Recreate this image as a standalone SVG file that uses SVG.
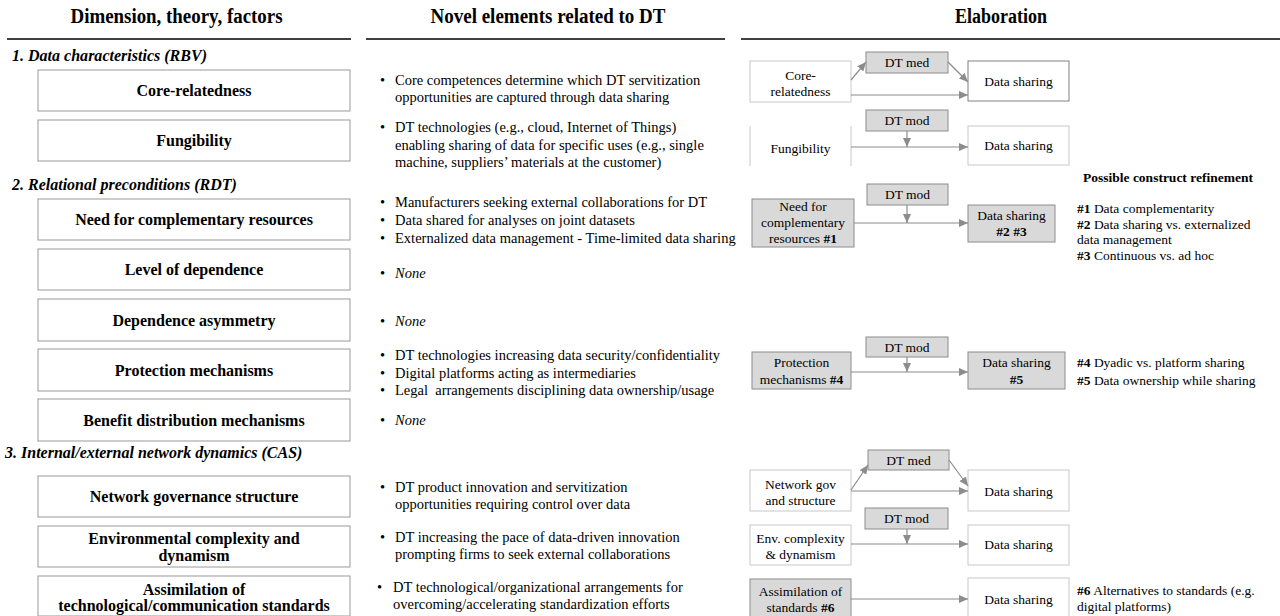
<svg xmlns="http://www.w3.org/2000/svg" width="1280" height="616" viewBox="0 0 1280 616" font-family="'Liberation Serif', 'Times New Roman', serif">
<style>
svg, text, tspan{font-family:'Liberation Serif','Times New Roman',serif}
text{fill:#000}
.hdr{font-size:20px;font-weight:bold;text-anchor:middle}
.sec{font-size:16px;font-weight:bold;font-style:italic}
.lbox{fill:#fff;stroke:#999;stroke-width:1}
.lbl{font-size:16px;font-weight:bold;text-anchor:middle}
.mid{font-size:14.5px}
.it{font-style:italic}
.rw{fill:#fff;stroke:#c8c8c8;stroke-width:1}
.rd{fill:#fff;stroke:#808080;stroke-width:1}
.rg{fill:#d9d9d9;stroke:#8c8c8c;stroke-width:1}
.rt{font-size:13.5px;text-anchor:middle}
.ref{font-size:13.5px}
.side{stroke:#c8c8c8;stroke-width:1}
#connectors line{stroke:#8c8c8c;stroke-width:1.2;fill:none;marker-end:url(#ah)}
</style>
<defs>
<marker id="ah" markerUnits="userSpaceOnUse" markerWidth="9" markerHeight="8" refX="9" refY="4" orient="auto">
<path d="M0,0 L9,4 L0,8 z" fill="#8c8c8c"/>
</marker>
</defs>
<rect width="1280" height="616" fill="#fff"/>

<g id="headers">
<text class="hdr" x="176.5" y="23" textLength="212" lengthAdjust="spacingAndGlyphs">Dimension, theory, factors</text>
<text class="hdr" x="548" y="23" textLength="235" lengthAdjust="spacingAndGlyphs">Novel elements related to DT</text>
<text class="hdr" x="1001" y="23" textLength="92" lengthAdjust="spacingAndGlyphs">Elaboration</text>
<line x1="7" y1="39" x2="351" y2="39" stroke="#000" stroke-width="1.5"/>
<line x1="366" y1="39" x2="725" y2="39" stroke="#000" stroke-width="1.5"/>
<line x1="741" y1="39" x2="1280" y2="39" stroke="#000" stroke-width="1.5"/>
</g>

<g id="sections">
<text class="sec" x="12" y="61" textLength="195" lengthAdjust="spacingAndGlyphs">1. Data characteristics (RBV)</text>
<text class="sec" x="12" y="190">2. Relational preconditions (RDT)</text>
<text class="sec" x="5" y="458">3. Internal/external network dynamics (CAS)</text>
</g>

<g id="f-core"><rect class="lbox" x="38" y="70" width="312" height="41"/><text class="lbl" x="194" y="96">Core-relatedness</text></g>
<g id="f-fung"><rect class="lbox" x="38" y="120" width="312" height="41"/><text class="lbl" x="194" y="146">Fungibility</text></g>
<g id="f-need"><rect class="lbox" x="38" y="199" width="312" height="41"/><text class="lbl" x="194" y="225">Need for complementary resources</text></g>
<g id="f-level"><rect class="lbox" x="38" y="249" width="312" height="41"/><text class="lbl" x="194" y="275">Level of dependence</text></g>
<g id="f-asym"><rect class="lbox" x="38" y="299" width="312" height="42"/><text class="lbl" x="194" y="325.5">Dependence asymmetry</text></g>
<g id="f-prot"><rect class="lbox" x="38" y="349" width="312" height="42"/><text class="lbl" x="194" y="375.5">Protection mechanisms</text></g>
<g id="f-benefit"><rect class="lbox" x="38" y="399" width="312" height="42"/><text class="lbl" x="194" y="425.5">Benefit distribution mechanisms</text></g>
<g id="f-netgov"><rect class="lbox" x="38" y="476" width="312" height="41"/><text class="lbl" x="194" y="502">Network governance structure</text></g>
<g id="f-env"><rect class="lbox" x="38" y="526" width="312" height="41"/><text class="lbl" x="194" y="544">Environmental complexity and</text><text class="lbl" x="194" y="561">dynamism</text></g>
<g id="f-assim"><rect class="lbox" x="38" y="576" width="312" height="40"/><text class="lbl" x="194" y="595">Assimilation of</text><text class="lbl" x="194" y="611">technological/communication standards</text></g>

<g id="novel">
<text class="mid" x="380" y="85">•</text><text class="mid" x="395" y="85">Core competences determine which DT servitization</text>
<text class="mid" x="395" y="102">opportunities are captured through data sharing</text>
<text class="mid" x="380" y="132">•</text><text class="mid" x="395" y="132">DT technologies (e.g., cloud, Internet of Things)</text>
<text class="mid" x="395" y="149.5">enabling sharing of data for specific uses (e.g., single</text>
<text class="mid" x="395" y="167">machine, suppliers’ materials at the customer)</text>
<text class="mid" x="380" y="207">•</text><text class="mid" x="395" y="207">Manufacturers seeking external collaborations for DT</text>
<text class="mid" x="380" y="225">•</text><text class="mid" x="395" y="225">Data shared for analyses on joint datasets</text>
<text class="mid" x="380" y="243">•</text><text class="mid" x="395" y="243">Externalized data management - Time-limited data sharing</text>
<text class="mid" x="380" y="278">•</text><text class="mid it" x="395" y="278">None</text>
<text class="mid" x="380" y="326">•</text><text class="mid it" x="395" y="326">None</text>
<text class="mid" x="380" y="360">•</text><text class="mid" x="395" y="360">DT technologies increasing data security/confidentiality</text>
<text class="mid" x="380" y="377.5">•</text><text class="mid" x="395" y="377.5">Digital platforms acting as intermediaries</text>
<text class="mid" x="380" y="395">•</text><text class="mid" x="395" y="395" xml:space="preserve">Legal  arrangements disciplining data ownership/usage</text>
<text class="mid" x="380" y="425">•</text><text class="mid it" x="395" y="425">None</text>
<text class="mid" x="380" y="492">•</text><text class="mid" x="395" y="492">DT product innovation and servitization</text>
<text class="mid" x="395" y="508.5">opportunities requiring control over data</text>
<text class="mid" x="380" y="542">•</text><text class="mid" x="395" y="542">DT increasing the pace of data-driven innovation</text>
<text class="mid" x="395" y="558.5">prompting firms to seek external collaborations</text>
<text class="mid" x="377" y="592">•</text><text class="mid" x="393" y="592">DT technological/organizational arrangements for</text>
<text class="mid" x="393" y="608.5">overcoming/accelerating standardization efforts</text>
</g>

<g id="e1-core"><rect class="rw" x="750" y="61" width="101" height="41"/><text class="rt" x="800.5" y="79.5">Core-</text><text class="rt" x="800.5" y="95.5">relatedness</text></g>
<g id="e1-med"><rect class="rg" x="866" y="52" width="82" height="21"/><text class="rt" x="907" y="67">DT med</text></g>
<g id="e1-ds"><rect class="rd" x="968" y="61" width="101" height="40"/><text class="rt" x="1018.5" y="86">Data sharing</text></g>

<g id="e2-fung"><line class="side" x1="750" y1="126" x2="750" y2="166"/><line class="side" x1="851" y1="126" x2="851" y2="166"/><text class="rt" x="800.5" y="153">Fungibility</text></g>
<g id="e2-mod"><rect class="rg" x="866" y="110" width="82" height="21"/><text class="rt" x="907" y="125">DT mod</text></g>
<g id="e2-ds"><rect class="rw" x="968" y="126" width="101" height="39"/><text class="rt" x="1018.5" y="150">Data sharing</text></g>

<g id="refine-title"><text class="ref" x="1083" y="182" font-weight="bold">Possible construct refinement</text></g>

<g id="e3-need"><rect class="rg" x="752" y="199" width="102" height="48"/><text class="rt" x="803" y="211">Need for</text><text class="rt" x="803" y="227">complementary</text><text class="rt" x="803" y="243">resources <tspan font-weight="bold">#1</tspan></text></g>
<g id="e3-mod"><rect class="rg" x="867" y="184" width="81" height="21"/><text class="rt" x="907.5" y="199">DT mod</text></g>
<g id="e3-ds"><rect class="rg" x="968" y="205" width="87" height="37"/><text class="rt" x="1011.5" y="220">Data sharing</text><text class="rt" x="1011.5" y="236" font-weight="bold">#2 #3</text></g>
<g id="refine-1"><text class="ref" x="1077" y="213"><tspan font-weight="bold">#1</tspan> Data complementarity</text><text class="ref" x="1077" y="229"><tspan font-weight="bold">#2</tspan> Data sharing vs. externalized</text><text class="ref" x="1077" y="244">data management</text><text class="ref" x="1077" y="260"><tspan font-weight="bold">#3</tspan> Continuous vs. ad hoc</text></g>

<g id="e4-prot"><rect class="rg" x="752" y="352" width="99" height="37"/><text class="rt" x="801.5" y="366.5">Protection</text><text class="rt" x="801.5" y="383.5">mechanisms <tspan font-weight="bold">#4</tspan></text></g>
<g id="e4-mod"><rect class="rg" x="866" y="337" width="82" height="20"/><text class="rt" x="907" y="351.5">DT mod</text></g>
<g id="e4-ds"><rect class="rg" x="968" y="352" width="97" height="37"/><text class="rt" x="1016.5" y="366.5">Data sharing</text><text class="rt" x="1016.5" y="383.5" font-weight="bold">#5</text></g>
<g id="refine-2"><text class="ref" x="1077" y="367"><tspan font-weight="bold">#4</tspan> Dyadic vs. platform sharing</text><text class="ref" x="1077" y="385"><tspan font-weight="bold">#5</tspan> Data ownership while sharing</text></g>

<g id="e5-net"><rect class="rw" x="750" y="470" width="101" height="41"/><text class="rt" x="800.5" y="488.5">Network gov</text><text class="rt" x="800.5" y="504.5">and structure</text></g>
<g id="e5-med"><rect class="rg" x="868" y="450" width="81" height="20"/><text class="rt" x="908.5" y="465">DT med</text></g>
<g id="e5-ds"><rect class="rw" x="968" y="470" width="101" height="41"/><text class="rt" x="1018.5" y="496">Data sharing</text></g>

<g id="e6-env"><rect class="rw" x="750" y="525" width="101" height="40"/><text class="rt" x="800.5" y="542.5">Env. complexity</text><text class="rt" x="800.5" y="558.5">&amp; dynamism</text></g>
<g id="e6-mod"><rect class="rg" x="865" y="508" width="83" height="21"/><text class="rt" x="906.5" y="523">DT mod</text></g>
<g id="e6-ds"><rect class="rw" x="968" y="525" width="101" height="40"/><text class="rt" x="1018.5" y="549">Data sharing</text></g>

<g id="e7-assim"><rect class="rg" x="750" y="579" width="101" height="40"/><text class="rt" x="800.5" y="595.5">Assimilation of</text><text class="rt" x="800.5" y="611.5">standards <tspan font-weight="bold">#6</tspan></text></g>
<g id="e7-ds"><rect class="rw" x="968" y="578" width="101" height="40"/><text class="rt" x="1018.5" y="603.5">Data sharing</text></g>
<g id="refine-3"><text class="ref" x="1077" y="594.5"><tspan font-weight="bold">#6</tspan> Alternatives to standards (e.g.</text><text class="ref" x="1077" y="611">digital platforms)</text></g>

<g id="connectors">
<line x1="851" y1="80" x2="866" y2="62"/>
<line x1="948" y1="62" x2="968" y2="82"/>
<line x1="851" y1="95" x2="968" y2="95"/>
<line x1="851" y1="147" x2="968" y2="147"/>
<line x1="907" y1="131" x2="907" y2="147"/>
<line x1="854" y1="223" x2="968" y2="223"/>
<line x1="907" y1="205" x2="907" y2="223"/>
<line x1="851" y1="372" x2="968" y2="372"/>
<line x1="907" y1="357" x2="907" y2="372"/>
<line x1="851" y1="490" x2="868" y2="465"/>
<line x1="949" y1="460" x2="968" y2="486"/>
<line x1="851" y1="491" x2="968" y2="491"/>
<line x1="851" y1="544" x2="968" y2="544"/>
<line x1="907" y1="529" x2="907" y2="544"/>
<line x1="851" y1="599" x2="968" y2="599"/>
</g>
</svg>
